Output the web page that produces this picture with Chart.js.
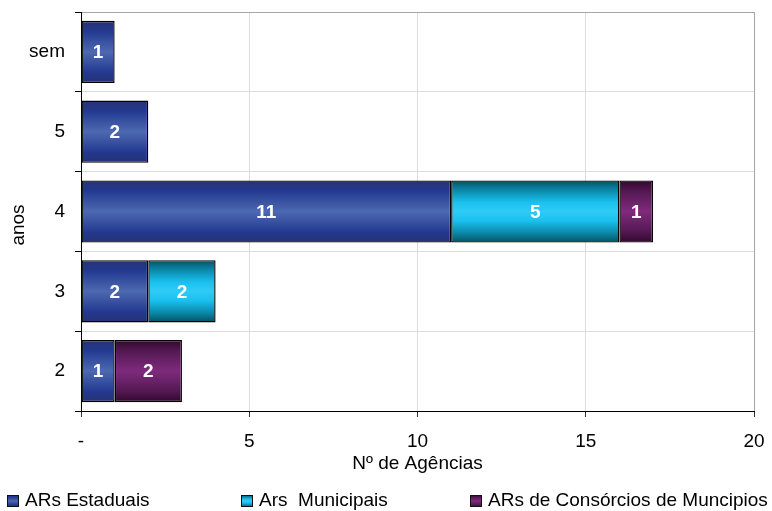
<!DOCTYPE html>
<html>
<head>
<meta charset="utf-8">
<script src="https://cdn.jsdelivr.net/npm/chart.js@4.4.1/dist/chart.umd.min.js"></script>
<style>
  html, body { margin: 0; padding: 0; background: #ffffff; }
  #wrap { width: 772px; height: 511px; }
</style>
</head>
<body>
<div id="wrap"><canvas id="chart" width="772" height="511"></canvas></div>
<script>
// Agencies per age group (years), stacked by type of regulator
const categories = ['sem', '5', '4', '3', '2'];
const estaduais = [1, 2, 11, 2, 1];
const municipais = [null, null, 5, 2, null];
const consorcios = [null, null, 1, null, 2];
const xTickLabels = ['-', '5', '10', '15', '20'];
const seriesNames = ['ARs Estaduais', 'Ars  Municipais', 'ARs de Consórcios de Muncipios'];
const xTitle = 'Nº de Agências';
const yTitle = 'anos';

const FONT = '"Liberation Sans", Arial, Helvetica, sans-serif';
const CAT_PCT = 0.78;

// Cylinder-like shading across the thickness of each bar
const shades = {
  blue:   [[0, '#28326f'], [0.16, '#22388f'], [0.5, '#4d69b1'], [0.84, '#22388f'], [1, '#28326f']],
  cyan:   [[0, '#06505e'], [0.15, '#0a86a6'], [0.35, '#1ac0ee'], [0.5, '#30cbf6'], [0.65, '#1ac0ee'], [0.85, '#0a86a6'], [1, '#06505e']],
  purple: [[0, '#33072f'], [0.2, '#571a55'], [0.5, '#7f2a7d'], [0.8, '#571a55'], [1, '#33072f']]
};

function makeGradient(ctx2d, stops, y0, y1) {
  const g = ctx2d.createLinearGradient(0, y0, 0, y1);
  stops.forEach(([o, c]) => g.addColorStop(o, c));
  return g;
}

function barFill(stops) {
  return (ctx) => {
    const chart = ctx.chart;
    const y = chart.scales && chart.scales.y;
    if (!y || ctx.type !== 'data' || !isFinite(y.bottom)) return stops[2][1];
    const center = y.getPixelForValue(ctx.dataIndex);
    const band = (y.bottom - y.top) / categories.length;
    const half = band * CAT_PCT / 2;
    return makeGradient(chart.ctx, stops, center - half, center + half);
  };
}

// White value labels centred in each segment
const segmentLabels = {
  id: 'segmentLabels',
  afterDatasetsDraw(chart) {
    const c = chart.ctx;
    c.save();
    c.fillStyle = '#ffffff';
    c.font = 'bold 19px ' + FONT;
    c.textAlign = 'center';
    c.textBaseline = 'middle';
    chart.data.datasets.forEach((ds, di) => {
      const meta = chart.getDatasetMeta(di);
      meta.data.forEach((el, i) => {
        const v = ds.data[i];
        if (v === null || v === undefined) return;
        const p = el.getCenterPoint();
        c.fillText(String(v), p.x, p.y + 1);
      });
    });
    c.restore();
  }
};

// Vertical axis title and the legend row along the bottom
const legendX = [7, 241, 470];
const extras = {
  id: 'extras',
  afterDraw(chart) {
    const c = chart.ctx;
    c.save();
    c.fillStyle = '#000000';
    c.font = '19px ' + FONT;
    c.textAlign = 'center';
    c.textBaseline = 'middle';
    c.translate(19, 225);
    c.rotate(-Math.PI / 2);
    c.fillText(yTitle, 0, 0);
    c.restore();

    const keys = ['blue', 'cyan', 'purple'];
    c.save();
    c.font = '19px ' + FONT;
    c.textBaseline = 'middle';
    c.textAlign = 'left';
    seriesNames.forEach((name, i) => {
      const x = legendX[i];
      const yTop = 495;
      c.fillStyle = makeGradient(c, shades[keys[i]], yTop, yTop + 12);
      c.fillRect(x, yTop, 12, 12);
      c.strokeStyle = '#111111';
      c.lineWidth = 1;
      c.strokeRect(x + 0.5, yTop + 0.5, 11, 11);
      c.fillStyle = '#000000';
      c.fillText(name, x + 18, 501);
    });
    c.restore();
  }
};

const common = {
  borderColor: '#000000',
  borderWidth: 1.4,
  borderSkipped: false,
  categoryPercentage: CAT_PCT,
  barPercentage: 1
};

new Chart(document.getElementById('chart'), {
  type: 'bar',
  data: {
    labels: categories,
    datasets: [
      Object.assign({ label: seriesNames[0], data: estaduais, backgroundColor: barFill(shades.blue) }, common),
      Object.assign({ label: seriesNames[1], data: municipais, backgroundColor: barFill(shades.cyan) }, common),
      Object.assign({ label: seriesNames[2], data: consorcios, backgroundColor: barFill(shades.purple) }, common)
    ]
  },
  options: {
    indexAxis: 'y',
    responsive: false,
    animation: false,
    events: [],
    layout: { padding: { left: 0, right: 18, top: 12, bottom: 35 } },
    plugins: {
      legend: { display: false },
      tooltip: { enabled: false }
    },
    scales: {
      x: {
        stacked: true,
        min: 0,
        max: 20,
        ticks: {
          stepSize: 5,
          color: '#000000',
          font: { family: FONT, size: 19 },
          padding: 13,
          maxRotation: 0,
          callback: (v, i) => xTickLabels[i]
        },
        grid: {
          color: (ctx) => ctx.index === xTickLabels.length - 1 ? '#a6a6a6' : '#dcdcdc',
          tickColor: '#333333',
          tickLength: 6,
          lineWidth: 1
        },
        border: { color: '#000000', width: 1 },
        title: {
          display: true,
          text: xTitle,
          color: '#000000',
          font: { family: FONT, size: 19 },
          padding: { top: 0, bottom: 1 }
        },
        afterFit: (s) => { s.height = 65; s.paddingLeft = 0; s.paddingRight = 0; }
      },
      y: {
        stacked: true,
        ticks: {
          color: '#000000',
          font: { family: FONT, size: 19 },
          padding: 10
        },
        grid: {
          offset: true,
          color: (ctx) => ctx.index === 0 ? '#a6a6a6' : '#dcdcdc',
          tickColor: '#000000',
          tickLength: 6,
          lineWidth: 1
        },
        border: { color: '#000000', width: 1 },
        afterFit: (s) => { s.width = 81; s.paddingTop = 0; s.paddingBottom = 0; }
      }
    }
  },
  plugins: [segmentLabels, extras]
});
</script>
</body>
</html>
